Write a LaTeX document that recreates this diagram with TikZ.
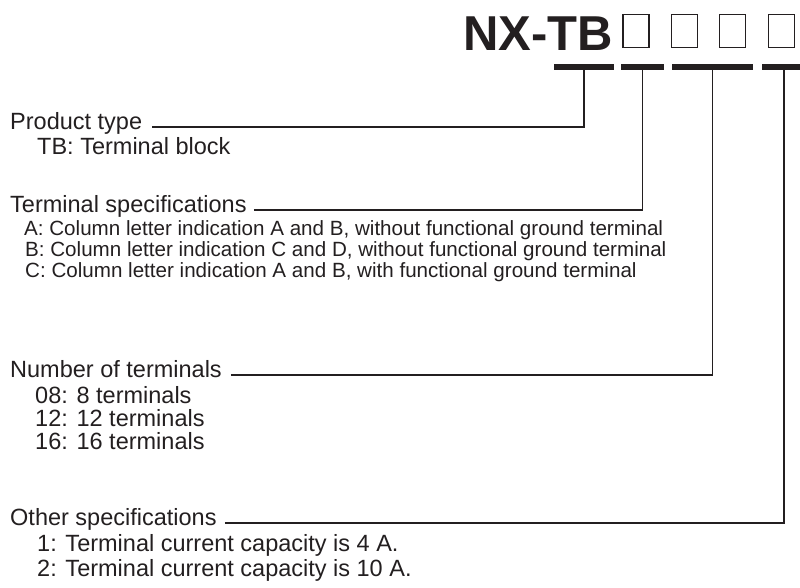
\documentclass[tikz,border=0pt]{standalone}
\usepackage{fontspec}
\setmainfont{Liberation Sans}
\usepackage{tikz}
\usetikzlibrary{positioning,calc}
\definecolor{ink}{HTML}{231F20}
\tikzset{
  codetitle/.style={anchor=base west,inner sep=0pt,text=ink,
                    font=\fontsize{49}{49}\selectfont\bfseries},
  slotbox/.style={draw=ink,line width=1.2pt,minimum width=26pt,
                  minimum height=33pt,inner sep=0pt},
  slotbar/.style={fill=ink,minimum height=6pt,inner sep=0pt},
  fieldname/.style={anchor=mid west,inner sep=0pt,text=ink,
                    font=\fontsize{23.5}{23.5}\selectfont},
  fieldopt/.style={anchor=mid west,inner sep=0pt,text=ink,
                   font=\fontsize{23.5}{23.5}\selectfont},
  fieldoptsm/.style={fieldopt,font=\fontsize{20.6}{20.6}\selectfont},
  leader/.style={draw=ink,line width=1.4pt}
}
\begin{document}
\begin{tikzpicture}[x=1pt,y=-1pt]
  \useasboundingbox (0,0) rectangle (800,587);

  % model code
  \node[codetitle] (code) at (463,50) {NX-TB};
  \foreach \i/\x in {1/636,2/684.5,3/732.5,4/781.5}
    \node[slotbox] (slot\i) at (\x,31) {};
  \node[slotbar,minimum width=60pt] (bar1) at (584,67) {};
  \node[slotbar,minimum width=43pt] (bar2) at (642.5,67) {};
  \node[slotbar,minimum width=81pt] (bar3) at (712.5,67) {};
  \node[slotbar,minimum width=44pt] (bar4) at (784,67) {};

  % fields
  \node[fieldname] (prod) at (10,127) {Product type};
  \node[fieldopt] (prodTB) at (37,152) {TB: Terminal block};

  \node[fieldname] (spec) at (10,210) {Terminal specifications};
  \node[fieldoptsm] (specA) at (24,233) {A: Column letter indication A and B, without functional ground terminal};
  \node[fieldoptsm] (specB) at (25,254) {B: Column letter indication C and D, without functional ground terminal};
  \node[fieldoptsm] (specC) at (25,275) {C: Column letter indication A and B, with functional ground terminal};

  \node[fieldname] (num) at (10,375) {Number of terminals};
  \node[fieldopt] (num08) at (35,401) {08: 8 terminals};
  \node[fieldopt] (num12) at (35,424) {12: 12 terminals};
  \node[fieldopt] (num16) at (35,447) {16: 16 terminals};

  \node[fieldname] (other) at (10,523) {Other specifications};
  \node[fieldopt] (other1) at (37,549) {1: Terminal current capacity is 4 A.};
  \node[fieldopt] (other2) at (37,574) {2: Terminal current capacity is 10 A.};

  % leaders
  \draw[leader] ([xshift=10pt]prod.mid east) -| (bar1.center);
  \draw[leader] ([xshift=7pt]spec.mid east) -| (bar2.center);
  \draw[leader] ([xshift=9pt]num.mid east) -| (bar3.center);
  \draw[leader] ([xshift=8pt]other.mid east) -| (bar4.center);
\end{tikzpicture}
\end{document}
